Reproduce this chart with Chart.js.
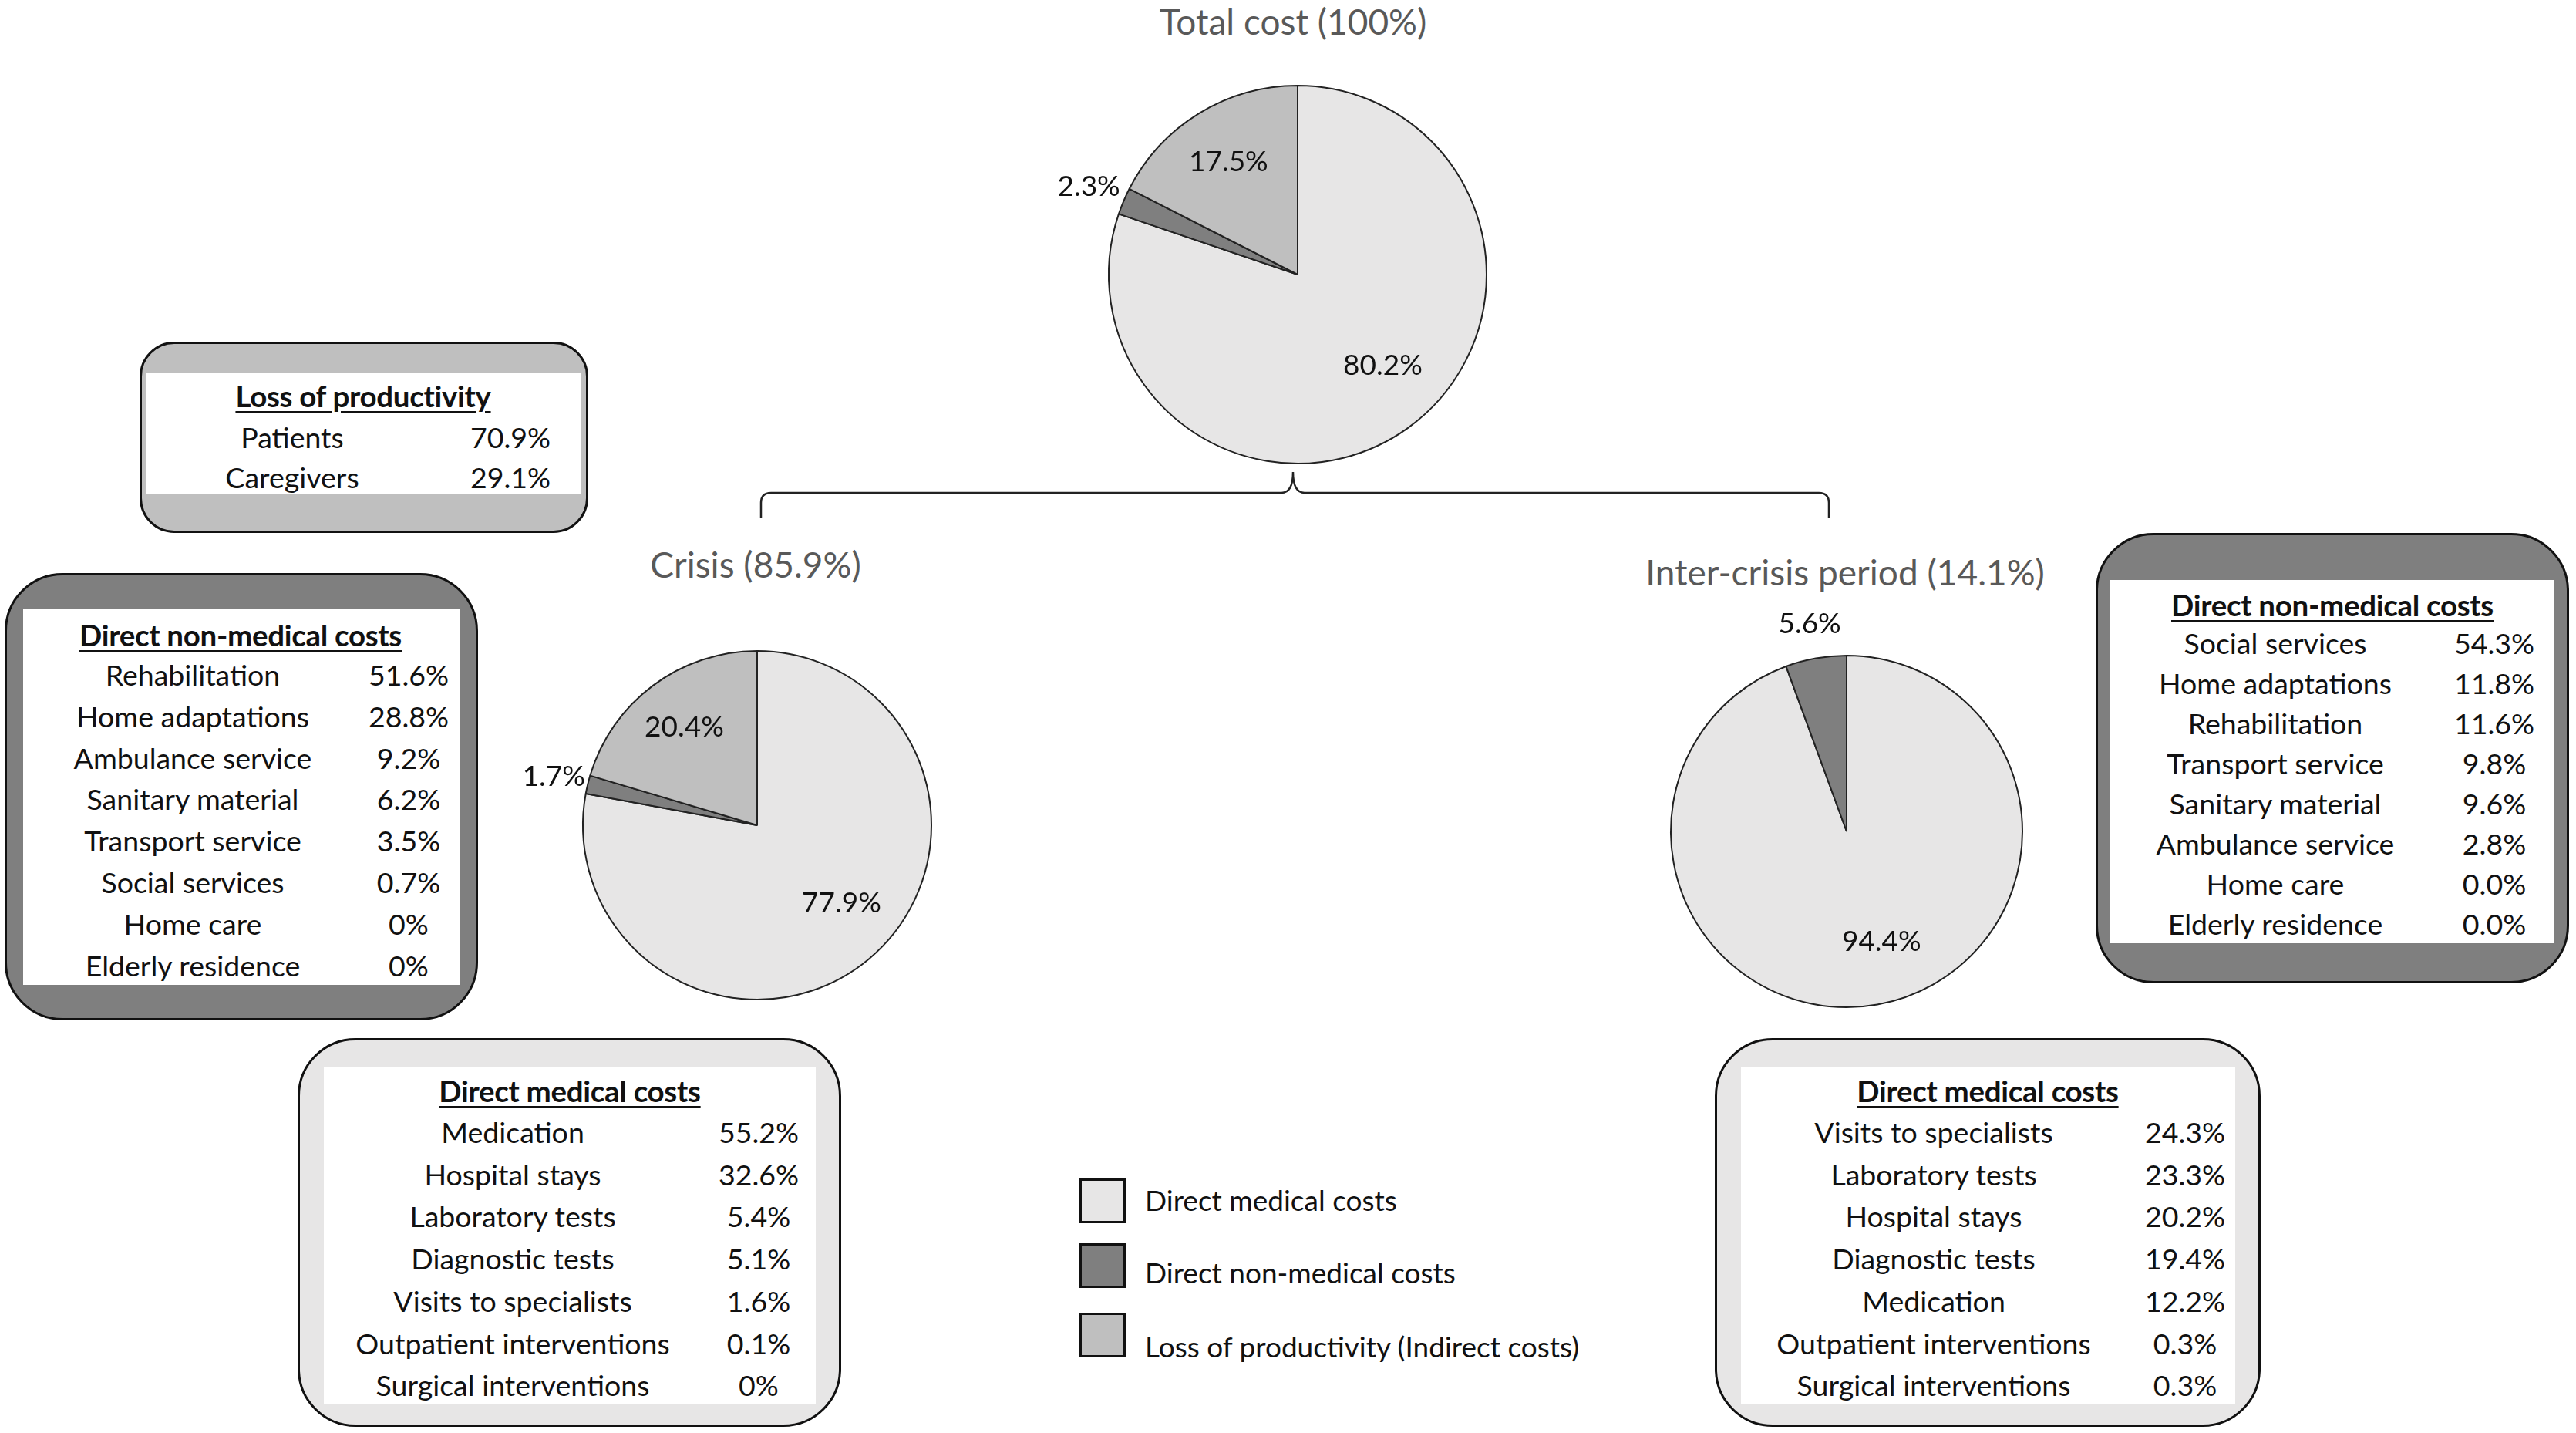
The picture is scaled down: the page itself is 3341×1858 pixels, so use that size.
<!DOCTYPE html>
<html>
<head>
<meta charset="utf-8">
<script src="https://cdn.jsdelivr.net/npm/chart.js@4.4.1/dist/chart.umd.min.js"></script>
<style>
  html, body { margin:0; padding:0; background:#fff; }
  body { width:3341px; height:1858px; position:relative; overflow:hidden; font-family: Lato, "Noto Sans", sans-serif; color:#111; }
  .abs { position:absolute; }
  .ctext { position:absolute; transform:translate(-50%,-50%); white-space:nowrap; }
  .title { font-size:46px; color:#595959; }
  .box { position:absolute; border:3px solid #111; box-sizing:border-box; }
  .inner { position:absolute; background:#fff; }
  .cell { position:absolute; transform:translate(-50%,-50%); white-space:nowrap; font-size:37.5px; }
  .hdr { position:absolute; transform:translate(-50%,-50%); white-space:nowrap; font-size:38.5px; font-weight:bold; text-decoration:underline; text-decoration-thickness:3px; text-underline-offset:5px; letter-spacing:-0.3px; }
  .sw { position:absolute; border:3px solid #111; box-sizing:border-box; }
  .lg { position:absolute; font-size:37px; transform:translateY(-50%); white-space:nowrap; }
</style>
</head>
<body>
<svg class="abs" style="left:0;top:0" width="3341" height="1858">
  <path id="bracket" d="M 987 672 L 987 652 Q 987 639 1000 639 L 1662 639 Q 1677 639 1677 612 Q 1677 639 1692 639 L 2359 639 Q 2372 639 2372 652 L 2372 672" fill="none" stroke="#222" stroke-width="2.5"/>
</svg>
<script>
// ---------- DATA ----------
const pieCategories = ['Direct medical costs', 'Direct non-medical costs', 'Loss of productivity (Indirect costs)'];
const totalValues = [80.2, 2.3, 17.5];
const crisisValues = [77.9, 1.7, 20.4];
const interCrisisValues = [94.4, 5.6, 0];
const pieTitles = ['Total cost (100%)', 'Crisis (85.9%)', 'Inter-crisis period (14.1%)'];

const lossTitle = 'Loss of productivity';
const lossItems = ['Patients', 'Caregivers'];
const lossValues = ['70.9%', '29.1%'];

const nonMedTitle = 'Direct non-medical costs';
const crisisNonMedItems = ['Rehabilitation', 'Home adaptations', 'Ambulance service', 'Sanitary material', 'Transport service', 'Social services', 'Home care', 'Elderly residence'];
const crisisNonMedValues = ['51.6%', '28.8%', '9.2%', '6.2%', '3.5%', '0.7%', '0%', '0%'];
const interNonMedItems = ['Social services', 'Home adaptations', 'Rehabilitation', 'Transport service', 'Sanitary material', 'Ambulance service', 'Home care', 'Elderly residence'];
const interNonMedValues = ['54.3%', '11.8%', '11.6%', '9.8%', '9.6%', '2.8%', '0.0%', '0.0%'];

const medTitle = 'Direct medical costs';
const crisisMedItems = ['Medication', 'Hospital stays', 'Laboratory tests', 'Diagnostic tests', 'Visits to specialists', 'Outpatient interventions', 'Surgical interventions'];
const crisisMedValues = ['55.2%', '32.6%', '5.4%', '5.1%', '1.6%', '0.1%', '0%'];
const interMedItems = ['Visits to specialists', 'Laboratory tests', 'Hospital stays', 'Diagnostic tests', 'Medication', 'Outpatient interventions', 'Surgical interventions'];
const interMedValues = ['24.3%', '23.3%', '20.2%', '19.4%', '12.2%', '0.3%', '0.3%'];

// ---------- STYLE ----------
const sliceColors = ['#e7e6e6', '#7f7f7f', '#bfbfbf'];

function addText(cls, txt, x, y) {
  const d = document.createElement('div');
  d.className = cls; d.textContent = txt;
  d.style.left = x + 'px'; d.style.top = y + 'px';
  document.body.appendChild(d);
  return d;
}

function addBox(cfg, title, items, values) {
  const b = document.createElement('div');
  b.className = 'box';
  Object.assign(b.style, { left: cfg.x + 'px', top: cfg.y + 'px', width: cfg.w + 'px', height: cfg.h + 'px', borderRadius: cfg.r + 'px', background: cfg.fill });
  document.body.appendChild(b);
  const inn = document.createElement('div');
  inn.className = 'inner';
  Object.assign(inn.style, { left: cfg.ix + 'px', top: cfg.iy + 'px', width: cfg.iw + 'px', height: cfg.ih + 'px' });
  document.body.appendChild(inn);
  addText('hdr', title, cfg.hx, cfg.hy);
  items.forEach((it, i) => {
    const y = cfg.ry + i * cfg.rs;
    addText('cell', it, cfg.lx, y);
    addText('cell', values[i], cfg.vx, y);
  });
}

// boxes
addBox({x:181, y:443, w:582, h:248, r:45, fill:'#bfbfbf', ix:190, iy:483, iw:563, ih:157, hx:471, hy:513, ry:566, rs:52, lx:379, vx:662}, lossTitle, lossItems, lossValues);
addBox({x:6, y:743, w:614, h:580, r:75, fill:'#7f7f7f', ix:30, iy:790, iw:566, ih:487, hx:312, hy:823, ry:874, rs:53.8, lx:250, vx:530}, nonMedTitle, crisisNonMedItems, crisisNonMedValues);
addBox({x:2718, y:691, w:614, h:584, r:75, fill:'#7f7f7f', ix:2736, iy:752, iw:577, ih:471, hx:3025, hy:784, ry:833, rs:52, lx:2951, vx:3235}, nonMedTitle, interNonMedItems, interNonMedValues);
addBox({x:386, y:1346, w:705, h:504, r:75, fill:'#e7e6e6', ix:420, iy:1383, iw:638, ih:438, hx:739, hy:1414, ry:1467, rs:54.7, lx:665, vx:984}, medTitle, crisisMedItems, crisisMedValues);
addBox({x:2224, y:1346, w:708, h:504, r:75, fill:'#e7e6e6', ix:2258, iy:1383, iw:641, ih:438, hx:2578, hy:1414, ry:1467, rs:54.7, lx:2508, vx:2834}, medTitle, interMedItems, interMedValues);

// legend
const swatchY = [1557, 1641, 1731];
const legendTextY = [1555, 1649, 1745];
pieCategories.forEach((c, i) => {
  const s = document.createElement('div');
  s.className = 'sw';
  Object.assign(s.style, { left: '1400px', top: (swatchY[i] - 29) + 'px', width: '60px', height: '58px', background: sliceColors[i] });
  document.body.appendChild(s);
  const t = document.createElement('div');
  t.className = 'lg'; t.textContent = c;
  t.style.left = '1485px'; t.style.top = legendTextY[i] + 'px';
  document.body.appendChild(t);
});

// pie titles
addText('ctext title', pieTitles[0], 1677, 27);
addText('ctext title', pieTitles[1], 980, 731);
addText('ctext title', pieTitles[2], 2393, 741);

// ---------- PIES ----------
const pctLabels = {
  id: 'pctLabels',
  afterDatasetsDraw(chart) {
    const ctx = chart.ctx;
    const meta = chart.getDatasetMeta(0);
    const vals = chart.data.datasets[0].data;
    ctx.save();
    ctx.font = '37px Lato, "Noto Sans", sans-serif';
    ctx.fillStyle = '#111';
    ctx.textAlign = 'center';
    ctx.textBaseline = 'middle';
    meta.data.forEach((arc, i) => {
      const v = vals[i];
      if (!v) return;
      const p = arc.getProps(['x', 'y', 'startAngle', 'endAngle', 'outerRadius'], true);
      let mid = (p.startAngle + p.endAngle) / 2;
      let f = 0.7;
      if (v < 6) { f = 1.2; }
      else if (v > 50) { mid -= 0.13; f = 0.66; }
      ctx.fillText(v.toFixed(1) + '%', p.x + Math.cos(mid) * p.outerRadius * f, p.y + Math.sin(mid) * p.outerRadius * f);
    });
    ctx.restore();
  }
};

function makePie(values, cx, cy, r) {
  const pad = 170;
  const size = 2 * r + 2 * pad + 2;
  const c = document.createElement('canvas');
  c.width = size; c.height = size;
  Object.assign(c.style, { position: 'absolute', left: (cx - size / 2) + 'px', top: (cy - size / 2) + 'px', width: size + 'px', height: size + 'px' });
  document.body.appendChild(c);
  new Chart(c, {
    type: 'pie',
    data: { labels: pieCategories, datasets: [{ data: values, backgroundColor: sliceColors, borderColor: '#222', borderWidth: 2 }] },
    options: {
      responsive: false, animation: false, devicePixelRatio: 1,
      layout: { padding: pad },
      plugins: { legend: { display: false }, tooltip: { enabled: false } }
    },
    plugins: [pctLabels]
  });
}

function drawAll() {
  makePie(totalValues, 1683, 356, 245);
  makePie(crisisValues, 982, 1070, 226);
  makePie(interCrisisValues, 2395, 1078, 228);
}
if (document.fonts && document.fonts.load) {
  document.fonts.load('37px Lato').then(drawAll, drawAll);
} else { drawAll(); }
</script>
</body>
</html>
